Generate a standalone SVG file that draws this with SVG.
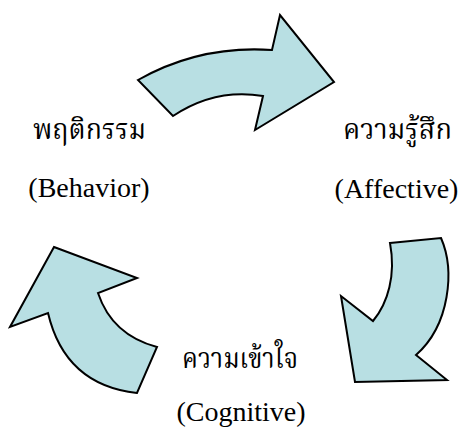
<svg xmlns="http://www.w3.org/2000/svg" width="462" height="432" viewBox="0 0 462 432">
<style>
.arrow{fill:#B8DFE3;stroke:#000;stroke-width:2;stroke-linejoin:miter}
.en{font-family:"Liberation Serif","Times New Roman",serif;font-size:28px;fill:#000;text-anchor:middle}
.th{font-family:"Noto Serif Thai","Noto Sans Thai","Noto Sans",sans-serif;font-size:28px;fill:#000;text-anchor:middle}
</style>
<rect width="462" height="432" fill="#fff"/>
<g id="connectors">
<path id="arrow-top" class="arrow" d="M138,80 Q200,45 272,50 L280,15 L334,82 L255,130 L263,96 Q215,88 173,116 Z"/>
<path id="arrow-right" class="arrow" d="M390,243 L441,238 C455,270 450,325 416,355 L447,380 L355,382 L341,296 L373,321 C388,303 396,275 390,243 Z"/>
<path id="arrow-left" class="arrow" d="M54,247 L137,278 L98,293 Q112,335 157,347 L137,393 Q65,385 48,313 L10,327 Z"/>
</g>
<g id="node-behavior">
<text class="th" x="89.5" y="139" textLength="113" lengthAdjust="spacingAndGlyphs">พฤติกรรม</text>
<text class="en" x="89" y="197">(Behavior)</text>
</g>
<g id="node-affective">
<text class="th" x="397.5" y="139" textLength="109" lengthAdjust="spacingAndGlyphs">ความรู้สึก</text>
<text class="en" x="396.5" y="198">(Affective)</text>
</g>
<g id="node-cognitive">
<text class="th" x="240" y="368" textLength="116" lengthAdjust="spacingAndGlyphs">ความเข้าใจ</text>
<text class="en" x="241" y="421">(Cognitive)</text>
</g>
</svg>
